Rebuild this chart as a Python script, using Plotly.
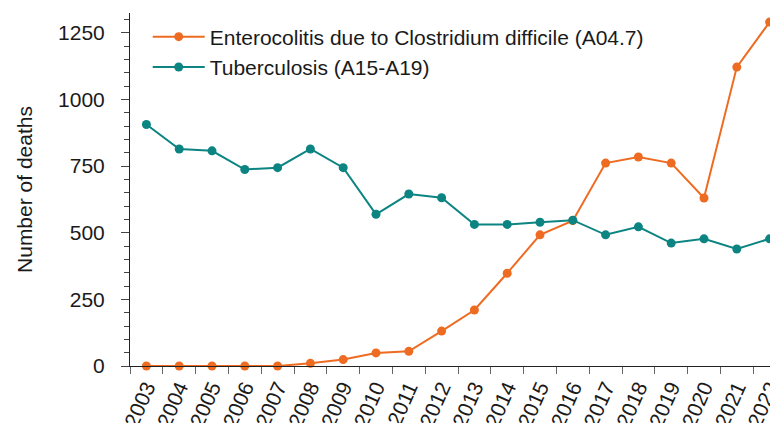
import plotly.graph_objects as go

years = [str(y) for y in range(2003, 2023)]
cdiff = [0, 0, 0, 0, 0, 10, 24, 49, 55, 131, 210, 348, 492, 545, 761, 784, 761, 630, 1121, 1290]
tb = [906, 814, 807, 737, 744, 814, 744, 569, 645, 631, 531, 531, 539, 547, 492, 522, 461, 477, 439, 477]
y_ticks = [0, 250, 500, 750, 1000, 1250]

ORANGE = "#EE6B22"
TEAL = "#0C8482"
FONT = "Arial, Liberation Sans, sans-serif"
FS = 21

fig = go.Figure()
fig.add_trace(go.Scatter(
    x=years, y=cdiff, mode="lines+markers",
    name="Enterocolitis due to Clostridium difficile (A04.7)",
    line=dict(color=ORANGE, width=2), marker=dict(color=ORANGE, size=9),
    legendgroup="a", cliponaxis=False,
))
fig.add_trace(go.Scatter(
    x=years, y=tb, mode="lines+markers",
    name="Tuberculosis (A15-A19)",
    line=dict(color=TEAL, width=2), marker=dict(color=TEAL, size=9),
    legendgroup="b", cliponaxis=False,
))

fig.update_layout(
    width=778, height=423,
    margin=dict(l=122, r=0, t=5, b=65),
    plot_bgcolor="white", paper_bgcolor="white",
    font=dict(family=FONT, size=FS, color="#1a1a1a"),
    showlegend=True,
    legend=dict(
        x=0.027, y=0.99, xanchor="left", yanchor="top",
        bgcolor="rgba(0,0,0,0)", font=dict(size=FS, color="#1a1a1a"),
        traceorder="grouped", tracegroupgap=0, itemwidth=52,
    ),
    xaxis=dict(
        type="category", range=[-0.5, 19.5],
        showline=True, linecolor="#222", linewidth=1,
        ticks="outside", tickson="boundaries", ticklen=7, tickcolor="#666",
        tickangle=-66, tickfont=dict(size=FS, color="#1a1a1a"),
        showgrid=False, zeroline=False,
    ),
    yaxis=dict(
        range=[0, 1324], tickvals=y_ticks,
        showline=True, linecolor="#222", linewidth=1,
        ticks="outside", ticklen=8, tickcolor="#444",
        minor=dict(dtick=50, ticks="outside", ticklen=5, tickcolor="#444", showgrid=False),
        ticklabelstandoff=12,
        showgrid=False, zeroline=False,
        title=dict(text="Number of deaths", font=dict(size=FS, color="#1a1a1a"), standoff=19),
        tickfont=dict(size=FS, color="#1a1a1a"),
    ),
)

fig.write_html("out.html")
